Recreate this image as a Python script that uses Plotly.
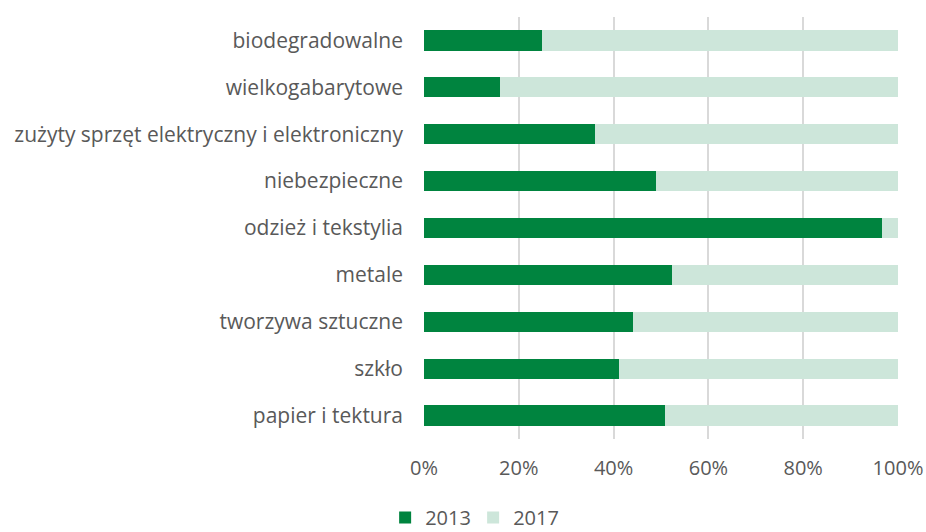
import plotly.graph_objects as go

categories = ["papier i tektura", "szkło", "tworzywa sztuczne", "metale", "odzież i tekstylia",
              "niebezpieczne", "zużyty sprzęt elektryczny i elektroniczny", "wielkogabarytowe",
              "biodegradowalne"]
share_2013 = [50.9, 41.2, 44.0, 52.4, 96.6, 49.0, 36.1, 16.0, 24.9]
share_2017 = [round(100 - v, 1) for v in share_2013]
x_ticks = [0, 20, 40, 60, 80, 100]
x_tick_labels = ["0%", "20%", "40%", "60%", "80%", "100%"]

FONT = "Open Sans"
TXT = "#595959"

fig = go.Figure()
fig.add_trace(go.Bar(y=categories, x=share_2013, name="2013", orientation="h",
                     marker=dict(color="#00843f", line=dict(width=0))))
fig.add_trace(go.Bar(y=categories, x=share_2017, name="2017", orientation="h",
                     marker=dict(color="#cde6da", line=dict(width=0))))

fig.update_layout(
    width=926, height=532,
    barmode="stack", bargap=0.57,
    plot_bgcolor="white", paper_bgcolor="white",
    margin=dict(l=424, r=28, t=16.5, b=92.5, autoexpand=False),
    font=dict(family=FONT, size=20, color=TXT),
    showlegend=True,
    legend=dict(orientation="h", x=-0.082, xanchor="left", y=-0.186, yanchor="middle",
                font=dict(size=20, color=TXT), traceorder="normal",
                itemwidth=30, entrywidth=43, entrywidthmode="pixels"),
)
fig.update_xaxes(range=[0, 100], tickvals=x_ticks, ticktext=x_tick_labels,
                 showgrid=True, gridcolor="#d9d9d9", gridwidth=2,
                 zeroline=False, showline=False, ticks="", ticklabelstandoff=15,
                 tickfont=dict(size=20), fixedrange=True)
fig.update_yaxes(showgrid=False, zeroline=False, showline=False, ticks="",
                 ticklabelstandoff=20, tickfont=dict(size=21), fixedrange=True)

fig.write_html("out.html", config={"displayModeBar": False},
               post_script="document.body.style.margin='0';")
